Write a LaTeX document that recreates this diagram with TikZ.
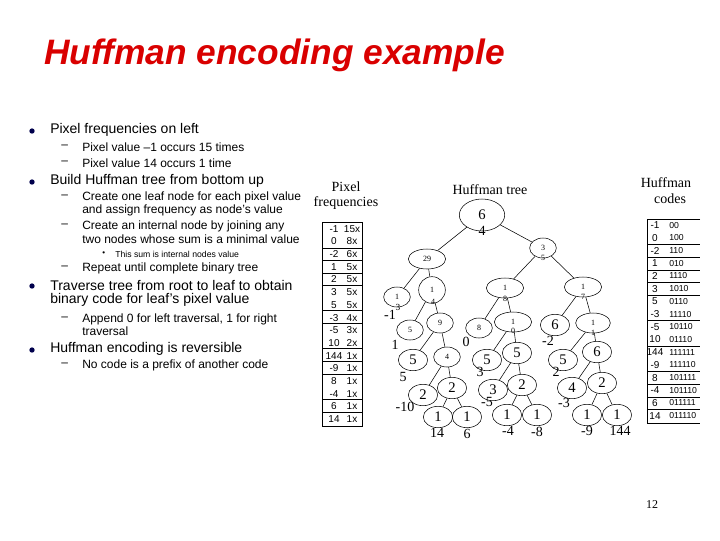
\documentclass[tikz,border=0pt]{standalone}
\usepackage{fontspec}
\setmainfont{Liberation Sans}
\newfontfamily\serf{Liberation Serif}
\usetikzlibrary{shapes.geometric}
\begin{document}
\begin{tikzpicture}[x=0.75pt,y=-0.75pt,
 lone/.style={anchor=west,font=\fontsize{10.5}{12}\selectfont,inner sep=0},
 ltwo/.style={anchor=west,font=\fontsize{9}{10}\selectfont,inner sep=0},
 bul/.style={circle,fill=blue!30!black,inner sep=0,minimum size=4pt},
 dsh/.style={anchor=west,font=\fontsize{9}{10}\selectfont,inner sep=0},
 en/.style={ellipse,draw,inner sep=0,minimum width=22pt,minimum height=16pt,font=\serf\fontsize{11}{12}\selectfont},
 sn/.style={ellipse,draw,inner sep=0,minimum width=20pt,minimum height=15pt,font=\serf\fontsize{6}{7}\selectfont},
 lab/.style={font=\serf\fontsize{10.5}{12}\selectfont,inner sep=0},
 tb/.style={font=\fontsize{7.5}{8}\selectfont,inner sep=0},
 hd/.style={font=\serf\fontsize{10.5}{12}\selectfont,inner sep=0}]
\useasboundingbox (0,0) rectangle (720,540);
\node[anchor=west,inner sep=0,text=red!85!black,font=\bfseries\itshape\fontsize{26.5}{30}\selectfont] (title) at (44,55) {Huffman encoding example};
% bullets
\node[bul] (b1) at (32,131) {}; \node[lone] (t1) at (50,130) {Pixel frequencies on left};
\node[dsh] (d1) at (61,147) {--}; \node[ltwo] (t2) at (82,147) {Pixel value --1 occurs 15 times};
\node[dsh] (d2) at (61,163) {--}; \node[ltwo] (t3) at (82,163) {Pixel value 14 occurs 1 time};
\node[bul] (b2) at (32,182) {}; \node[lone] (t4) at (50,181) {Build Huffman tree from bottom up};
\node[dsh] (d3) at (61,197) {--}; \node[ltwo] (t5) at (82,197) {Create one leaf node for each pixel value};
\node[ltwo] (t6) at (82,210) {and assign frequency as node's value};
\node[dsh] (d4) at (61,226) {--}; \node[ltwo] (t7) at (82,226) {Create an internal node by joining any};
\node[ltwo] (t8) at (82,239) {two nodes whose sum is a minimal value};
\node[anchor=west,inner sep=0,font=\fontsize{6}{7}\selectfont] (d5) at (102,254) {•};
\node[anchor=west,inner sep=0,font=\fontsize{6.5}{7}\selectfont] (t9) at (115,254) {This sum is internal nodes value};
\node[dsh] (d6) at (61,268) {--}; \node[ltwo] (t10) at (82,268) {Repeat until complete binary tree};
\node[bul] (b3) at (32,286) {}; \node[lone] (t11) at (50,285) {Traverse tree from root to leaf to obtain};
\node[lone] (t12) at (50,300) {binary code for leaf's pixel value};
\node[dsh] (d7) at (61,319) {--}; \node[ltwo] (t13) at (82,319) {Append 0 for left traversal, 1 for right};
\node[ltwo] (t14) at (82,331) {traversal};
\node[bul] (b4) at (32,350) {}; \node[lone] (t15) at (50,349) {Huffman encoding is reversible};
\node[dsh] (d8) at (61,365) {--}; \node[ltwo] (t16) at (82,365) {No code is a prefix of another code};
% headers
\node[hd] (h1) at (346,187) {Pixel};
\node[hd] (h2) at (346,203) {frequencies};
\node[hd] (h3) at (490,190) {Huffman tree};
\node[hd] (h4) at (666,183) {Huffman};
\node[hd] (h5) at (670,199) {codes};
% left table
\draw (322,222) rectangle (362,426);
\foreach \y in {248,260,273,285,310,323,348,361,374,399,412} \draw (322,\y) -- (362,\y);
\foreach \v/\f [count=\i] in {-1/15x,0/8x,-2/6x,1/5x,2/5x,3/5x,5/5x,-3/4x,-5/3x,10/2x,144/1x,-9/1x,8/1x,-4/1x,6/1x,14/1x}{
 \node[tb] (fv\i) at (334,{216+12.7*\i}) {\v};
 \node[tb] (ff\i) at (352,{216+12.7*\i}) {\f};}
% right table
\draw (700,219) -- (647,219) -- (647,423) -- (700,423);
\foreach \y in {244.5,257.2,269.9,282.6,295.3,320.7,346.1,371.5,384.2,396.9,409.6} \draw (647,\y) -- (700,\y);
\foreach \v/\f [count=\i] in {-1/00,0/100,-2/110,1/010,2/1110,3/1010,5/0110,-3/11110,-5/10110,10/01110,144/111111,-9/111110,8/101111,-4/101110,6/011111,14/011110}{
 \node[tb] (cv\i) at (655,{212.5+12.7*\i}) {\v};
 \node[tb,anchor=west,font=\fontsize{6.5}{7}\selectfont] (cc\i) at (669,{212.5+12.7*\i}) {\f};}
% tree nodes
\node[en,minimum width=34pt,minimum height=24pt] (root) at (482,215) {6};
\node[sn] (n3) at (543,248) {3};
\node[sn,minimum width=28pt] (n29) at (427,259) {29};
\node[sn] (nl1) at (397,297) {1};
\node[sn,minimum height=20pt] (nl2) at (432,290) {1};
\node[sn,minimum width=28pt] (n18) at (505,288) {1};
\node[sn,minimum width=28pt] (n17) at (583,287) {1};
\node[sn] (n5a) at (410,330) {5};
\node[sn] (n9) at (440,323) {9};
\node[sn] (n8) at (479,328) {8};
\node[sn,minimum width=28pt] (n10) at (513,322) {1};
\node[en] (n6a) at (555,325) {6};
\node[sn,minimum width=26pt] (n11) at (593,323) {1};
\node[en] (n5b) at (413,360) {5};
\node[sn] (n4a) at (447,357) {4};
\node[en] (n5c) at (487,360) {5};
\node[en] (n5d) at (517,353) {5};
\node[en] (n5e) at (563,360) {5};
\node[en] (n6b) at (597,352) {6};
\node[en] (n2a) at (423,395) {2};
\node[en] (n2b) at (452,388) {2};
\node[en] (n3a) at (493,390) {3};
\node[en] (n2c) at (522,385) {2};
\node[en] (n4b) at (572,388) {4};
\node[en] (n2d) at (602,383) {2};
\node[en] (l1) at (438,417) {1}; \node[en] (l2) at (467,417) {1};
\node[en] (l3) at (507,415) {1}; \node[en] (l4) at (537,415) {1};
\node[en] (l5) at (587,415) {1}; \node[en] (l6) at (617,415) {1};
% labels
\node[lab] (a1) at (482,231) {4};
\node[lab,font=\serf\fontsize{6}{7}\selectfont] (a2) at (543,258) {5};
\node[lab,font=\serf\fontsize{6}{7}\selectfont] (a3) at (433,302) {4};
\node[lab,font=\serf\fontsize{6}{7}\selectfont] (a4) at (505,299) {8};
\node[lab,font=\serf\fontsize{6}{7}\selectfont] (a5) at (583,297) {7};
\node[lab,font=\serf\fontsize{6}{7}\selectfont] (a6) at (513,331) {0};
\node[lab,font=\serf\fontsize{6}{7}\selectfont] (a7) at (593,333) {1};
\node[lab] (a8) at (390,315) {-1};
\node[lab,font=\serf\fontsize{7}{8}\selectfont] (a9) at (398,307) {3};
\node[lab] (a10) at (395,345) {1};
\node[lab] (a11) at (466,342) {0};
\node[lab] (a12) at (548,341) {-2};
\node[lab] (a13) at (403,377) {5};
\node[lab] (a14) at (480,372) {3};
\node[lab] (a15) at (556,372) {2};
\node[lab] (a16) at (405,407) {-10};
\node[lab] (a17) at (487,402) {-5};
\node[lab] (a18) at (564,403) {-3};
\node[lab] (a19) at (437,433) {14};
\node[lab] (a20) at (467,434) {6};
\node[lab] (a21) at (508,431) {-4};
\node[lab] (a22) at (537,432) {-8};
\node[lab] (a23) at (587,431) {-9};
\node[lab] (a24) at (620,431) {144};
% edges
\foreach \a/\b in {root/n29,root/n3,n29/nl1,n29/nl2,nl2/n5a,nl2/n9,n9/n5b,n9/n4a,n4a/n2a,n4a/n2b,n2b/l1,n2b/l2,
 n3/n18,n3/n17,n18/n8,n18/n10,n10/n5c,n10/n5d,n5d/n3a,n5d/n2c,n2c/l3,n2c/l4,
 n17/n6a,n17/n11,n11/n5e,n11/n6b,n6b/n4b,n6b/n2d,n2d/l5,n2d/l6}
 \draw (\a) -- (\b);
\node[inner sep=0,font=\serf\fontsize{9}{10}\selectfont] (pg) at (652,505) {12};
\end{tikzpicture}
\end{document}
